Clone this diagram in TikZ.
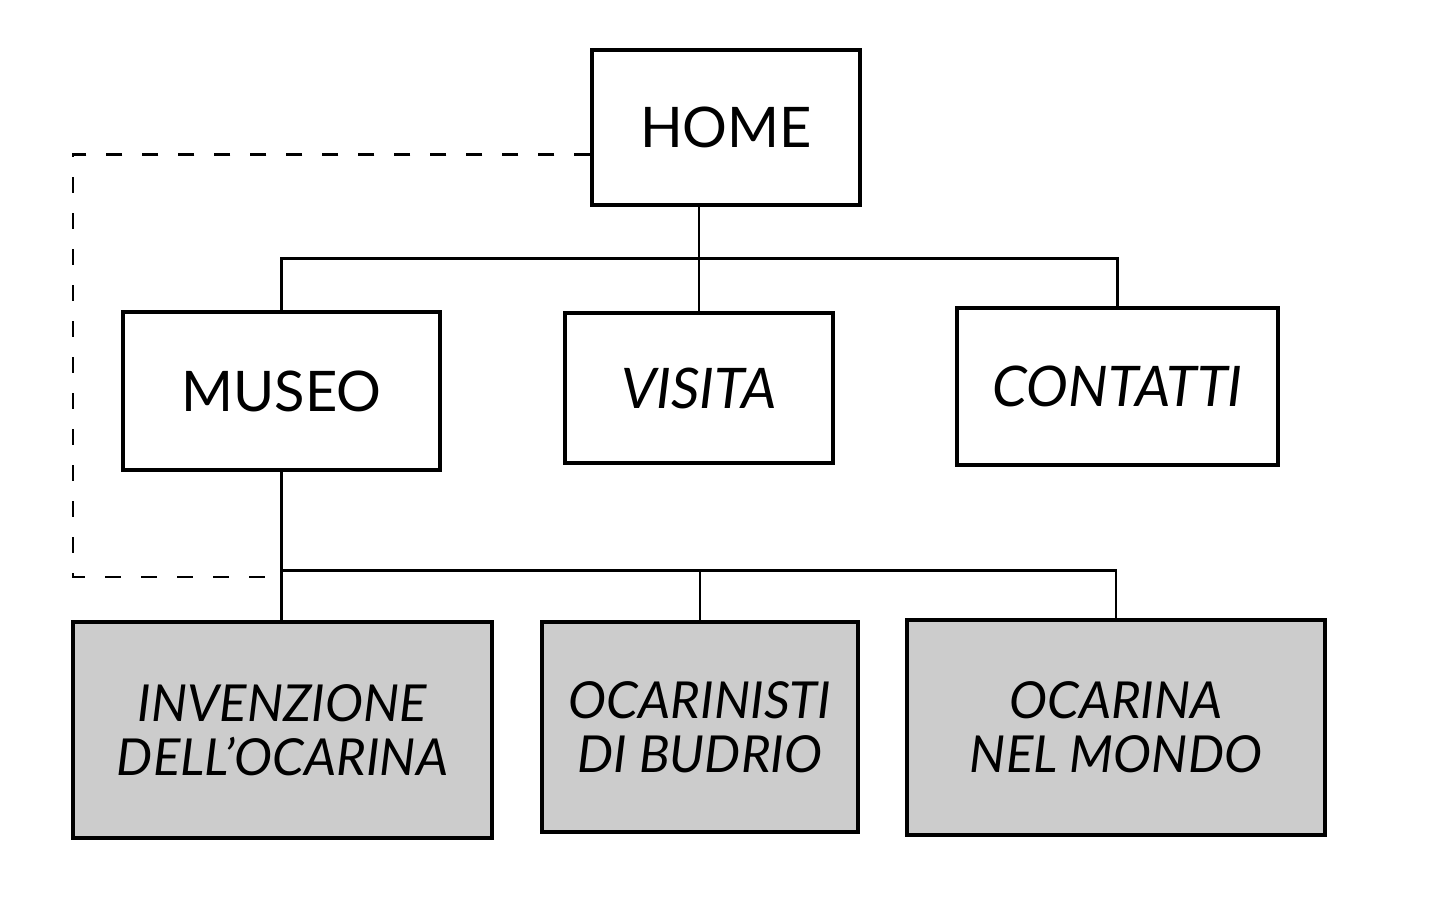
\documentclass[tikz,border=0pt]{standalone}
\usepackage{fontspec}
\setmainfont{Lato}
\usetikzlibrary{positioning}
\definecolor{boxgray}{rgb}{0.8,0.8,0.8}

\tikzset{
  page/.style={rectangle, draw=black, line width=1.6pt, fill=white, align=center, font=\fontsize{28}{27}\selectfont},
  leaf/.style={page, fill=boxgray, font=\fontsize{25.5}{27}\selectfont\itshape},
  link/.style={line width=1.1pt},
}

\begin{document}
\begin{tikzpicture}[x=0.5pt, y=-0.5pt]
    \useasboundingbox (0,0) rectangle (1441,899);
    %\fill (0,0) circle (0.1pt);
    \node[page, minimum width=134pt, minimum height=77.5pt] (home) at (726,127.5) {HOME};
    \node[page, minimum width=158.5pt, minimum height=79pt] (museo) at (281.5,391) {MUSEO};
    \node[page, minimum width=134pt, minimum height=75pt] (visita) at (699,388) {\itshape VISITA};
    \node[page, minimum width=160.5pt, minimum height=78.5pt] (contatti) at (1117.5,386.5) {\itshape CONTATTI};
    \node[leaf, minimum width=209.5pt, minimum height=108pt] (invenzione) at (282.5,730) {INVENZIONE\\DELL'OCARINA};
    \node[leaf, minimum width=158pt, minimum height=105pt] (ocarinisti) at (700,727) {OCARINISTI\\DI BUDRIO};
    \node[leaf, minimum width=209pt, minimum height=107.5pt] (mondo) at (1116,727.5) {OCARINA\\NEL MONDO};
    \coordinate (back) at (73,577);
    \draw[link]  (museo.north) -- ++(0,-52) -| (contatti.north);
    \draw[link]  (home.south -| visita.north) -- (visita.north);
    \draw[link]  (museo.south) -- (museo.south |- invenzione.north);
    \draw[link]  (museo.south |- invenzione.north) ++(0,-50) -| (mondo.north);
    \draw[link]  (ocarinisti.north) -- ++(0,-50);
    \draw[link, dash pattern=on 8pt off 10pt]  ([yshift=-13.5pt]home.west) -| (back) -- (back -| museo.south);
\end{tikzpicture}
\end{document}
